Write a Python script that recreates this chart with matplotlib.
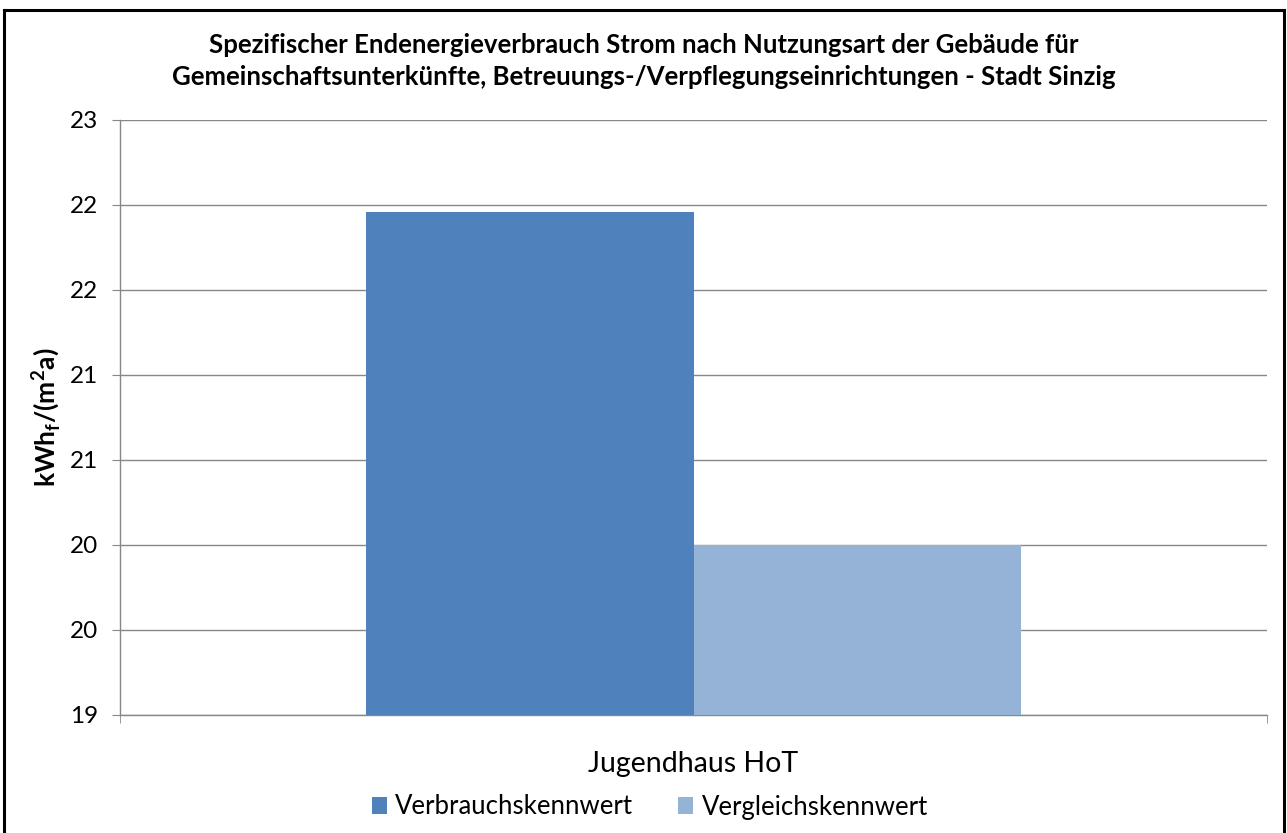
import numpy as np
import matplotlib
matplotlib.use("Agg")
from matplotlib import pyplot as plt
from matplotlib.lines import Line2D

# Chart data
categories = ["Jugendhaus HoT"]
series_names = ["Verbrauchskennwert", "Vergleichskennwert"]
verbrauch = [21.96]
vergleich = [20.0]
y_tick_values = [19.0, 19.5, 20.0, 20.5, 21.0, 21.5, 22.0, 22.5]
y_tick_labels = ["19", "20", "20", "21", "21", "22", "22", "23"]

title = ("Spezifischer Endenergieverbrauch Strom nach Nutzungsart der Gebäude für\n"
         "Gemeinschaftsunterkünfte, Betreuungs-/Verpflegungseinrichtungen - Stadt Sinzig")

# Fonts (Calibri-like look)
plt.rcParams["font.family"] = ["Lato", "DejaVu Sans"]
plt.rcParams["mathtext.fontset"] = "custom"
plt.rcParams["mathtext.rm"] = "Lato:weight=bold"
plt.rcParams["mathtext.bf"] = "Lato:weight=bold"

colors = ["#4F81BD", "#95B3D7"]
grid_color = "#878787"

W, H = 1287, 833
fig = plt.figure(figsize=(W / 100, H / 100), dpi=100)

# Plot area in pixel coordinates
left, right, top, bottom = 120, 1267, 120, 715
ax = fig.add_axes([left / W, 1 - bottom / H, (right - left) / W, (bottom - top) / H])

# Excel-like bar layout: gap width 150%
x = np.arange(len(categories))
bar_w = 1 / 3.5
ax.bar(x - bar_w / 2, verbrauch, width=bar_w, color=colors[0], label=series_names[0],
       zorder=3)
ax.bar(x + bar_w / 2, vergleich, width=bar_w, color=colors[1], label=series_names[1],
       zorder=3)

ax.set_xlim(-0.5, len(categories) - 0.5)
ax.set_ylim(y_tick_values[0], y_tick_values[-1])

# Y axis
ax.set_yticks(y_tick_values)
ax.set_yticklabels(y_tick_labels, fontsize=17.5)
ax.tick_params(axis="y", direction="out", length=6, color=grid_color, pad=10)
ax.yaxis.grid(True, color=grid_color, linewidth=1, zorder=0)
ax.set_axisbelow(True)
ax.set_ylabel(r"kWh$_\mathrm{f}$/(m$^\mathrm{2}$a)", fontsize=19, fontweight="bold",
              labelpad=5)

# X axis: label in centre, tick marks at category borders
ax.set_xticks(x)
ax.set_xticklabels(categories, fontsize=20.5)
ax.tick_params(axis="x", which="major", length=0, pad=26)
ax.set_xticks(np.arange(len(categories) + 1) - 0.5, minor=True)
ax.tick_params(axis="x", which="minor", direction="out", length=6, color=grid_color)

for s in ["top", "right"]:
    ax.spines[s].set_visible(False)
for s in ["left", "bottom"]:
    ax.spines[s].set_color(grid_color)
    ax.spines[s].set_linewidth(1)

# Title
fig.text(644 / W, 1 - 61 / H, title, ha="center", va="center", fontsize=18.5,
         fontweight="bold", linespacing=1.4)

# Legend
ax.legend(loc="center", bbox_to_anchor=(650 / W, 1 - 807 / H), bbox_transform=fig.transFigure,
          ncol=2, frameon=False, fontsize=18.5, handlelength=0.58, handleheight=0.62,
          handletextpad=0.32, columnspacing=1.75, borderpad=0.2)

# Outer chart border (top, left, right)
lw = 2.2
fig.add_artist(Line2D([4 / W, 4 / W], [0, 1 - 10 / H], color="black", linewidth=lw,
                      transform=fig.transFigure))
fig.add_artist(Line2D([4 / W, 1284 / W], [1 - 10 / H, 1 - 10 / H], color="black",
                      linewidth=lw, transform=fig.transFigure))
fig.add_artist(Line2D([1284 / W, 1284 / W], [0, 1 - 10 / H], color="black", linewidth=lw,
                      transform=fig.transFigure))

fig.savefig("out.png", dpi=100)
